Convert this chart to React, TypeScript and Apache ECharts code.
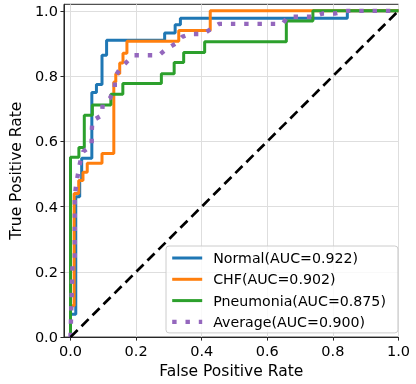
import React, { useEffect, useRef } from "react";
import * as echarts from "echarts";

// ROC curve corner points
const normalFpr = [0, 0, 0.016, 0.016, 0.028, 0.028, 0.034, 0.034, 0.065, 0.065, 0.079, 0.079, 0.096, 0.096, 0.11, 0.11, 0.287, 0.287, 0.319, 0.319, 0.335, 0.335, 0.844, 0.844, 1.0];
const normalTpr = [0, 0.07, 0.07, 0.43, 0.43, 0.48, 0.48, 0.548, 0.548, 0.75, 0.75, 0.774, 0.774, 0.864, 0.864, 0.91, 0.91, 0.932, 0.932, 0.957, 0.957, 0.977, 0.977, 1.0, 1.0];

const chfFpr = [0, 0, 0.011, 0.011, 0.025, 0.025, 0.038, 0.038, 0.051, 0.051, 0.096, 0.096, 0.132, 0.132, 0.138, 0.138, 0.15, 0.15, 0.16, 0.16, 0.172, 0.172, 0.33, 0.33, 0.426, 0.426, 1.0];
const chfTpr = [0, 0.096, 0.096, 0.44, 0.44, 0.48, 0.48, 0.505, 0.505, 0.533, 0.533, 0.563, 0.563, 0.782, 0.782, 0.807, 0.807, 0.84, 0.84, 0.87, 0.87, 0.907, 0.907, 0.94, 0.94, 1.0, 1.0];

const pneuFpr = [0, 0, 0.0255, 0.0255, 0.042, 0.042, 0.0666, 0.0666, 0.123, 0.123, 0.1595, 0.1595, 0.277, 0.277, 0.316, 0.316, 0.345, 0.345, 0.409, 0.409, 0.658, 0.658, 0.739, 0.739, 1.0];
const pneuTpr = [0, 0.551, 0.551, 0.581, 0.581, 0.68, 0.68, 0.711, 0.711, 0.744, 0.744, 0.777, 0.777, 0.807, 0.807, 0.842, 0.842, 0.872, 0.872, 0.905, 0.905, 0.969, 0.969, 1.0, 1.0];

const avgFpr = [0, 0.006, 0.013, 0.013, 0.0176, 0.029, 0.039, 0.0645, 0.0645, 0.0666, 0.096, 0.098, 0.12, 0.135, 0.135, 0.152, 0.172, 0.192, 0.27, 0.291, 0.321, 0.34, 0.365, 0.404, 0.428, 0.453, 0.647, 0.662, 0.741, 0.77, 0.808, 0.844, 1.0];
const avgTpr = [0, 0.22, 0.241, 0.431, 0.471, 0.534, 0.569, 0.587, 0.627, 0.663, 0.68, 0.714, 0.732, 0.76, 0.797, 0.824, 0.844, 0.864, 0.864, 0.882, 0.9, 0.92, 0.929, 0.929, 0.944, 0.96, 0.96, 0.982, 0.982, 0.992, 0.992, 1.0, 1.0];

const chanceFpr = [0, 1];
const chanceTpr = [0, 1];

const legendLabels = ["Normal(AUC=0.922)", "CHF(AUC=0.902)", "Pneumonia(AUC=0.875)", "Average(AUC=0.900)"];
const tickValues = [0, 0.2, 0.4, 0.6, 0.8, 1.0];
const xTitle = "False Positive Rate";
const yTitle = "True Positive Rate";

function zip(a: number[], b: number[]) {
  return a.map((v, i) => [v, b[i]]);
}

export default function App() {
  const ref = useRef<HTMLDivElement>(null);
  useEffect(() => {
    const chart = echarts.init(ref.current!, null, { renderer: "svg" });
    const font = "DejaVu Sans";
    const axisCommon = (name: string, min: number, max: number, nameGap: number) => ({
      type: "value" as const,
      min,
      max,
      name,
      nameLocation: "middle" as const,
      nameGap,
      nameTextStyle: { fontSize: 15.5, color: "#000", fontFamily: font },
      axisLine: { show: true, onZero: false, lineStyle: { color: "#262626", width: 1 } },
      axisTick: { show: true, customValues: tickValues, length: 3.5, lineStyle: { color: "#262626", width: 1 } },
      axisLabel: {
        customValues: tickValues,
        formatter: (v: number) => v.toFixed(1),
        fontSize: 14.5,
        color: "#000",
        fontFamily: font,
        margin: 6,
      },
      splitLine: { show: true, lineStyle: { color: "#dedede", width: 1 } },
    });
    const purpleStyle = { width: 4.4, type: [4.4, 8.9], cap: "butt" };
    const dashStyle = { width: 2.7, type: [10, 5.5], cap: "butt" };
    const lineSeries = (name: string, fpr: number[], tpr: number[], color: string, extra: any = {}) => ({
      type: "line",
      name,
      data: zip(fpr, tpr),
      symbol: "none",
      itemStyle: { color },
      lineStyle: { color, width: 3, ...extra },
      silent: true,
    });
    chart.setOption({
      animation: false,
      grid: {
        left: 51,
        right: 17.5,
        top: 4.3,
        bottom: 41.7,
        show: true,
        borderColor: "#262626",
        borderWidth: 1,
      },
      xAxis: axisCommon(xTitle, -0.02, 1.0, 20),
      yAxis: axisCommon(yTitle, 0, 1.02, 29),
      legend: {
        orient: "vertical",
        left: 166,
        top: 246,
        itemWidth: 30,
        itemHeight: 14,
        itemGap: 7.3,
        padding: [5, 12, 4, 4],
        backgroundColor: "rgba(255,255,255,0.8)",
        borderColor: "#cccccc",
        borderWidth: 1,
        borderRadius: 3,
        itemStyle: { opacity: 0, borderWidth: 0 },
        lineStyle: { width: "inherit" },
        textStyle: { fontSize: 14.2, color: "#000", fontFamily: font, padding: [0, 0, 0, 6] },
        data: legendLabels.map((name, i) => ({
          name,
          lineStyle: { width: i === 3 ? 4.4 : 3 },
        })),
      },
      series: [
        lineSeries(legendLabels[0], normalFpr, normalTpr, "#1f77b4"),
        lineSeries(legendLabels[1], chfFpr, chfTpr, "#ff7f0e"),
        lineSeries(legendLabels[2], pneuFpr, pneuTpr, "#2ca02c"),
        lineSeries(legendLabels[3], avgFpr, avgTpr, "#9467bd", purpleStyle),
        lineSeries("chance", chanceFpr, chanceTpr, "#000000", dashStyle),
      ],
    });
    return () => chart.dispose();
  }, []);
  return <div ref={ref} style={{ position: "fixed", left: 0, top: 0, width: 416, height: 384 }} />;
}
